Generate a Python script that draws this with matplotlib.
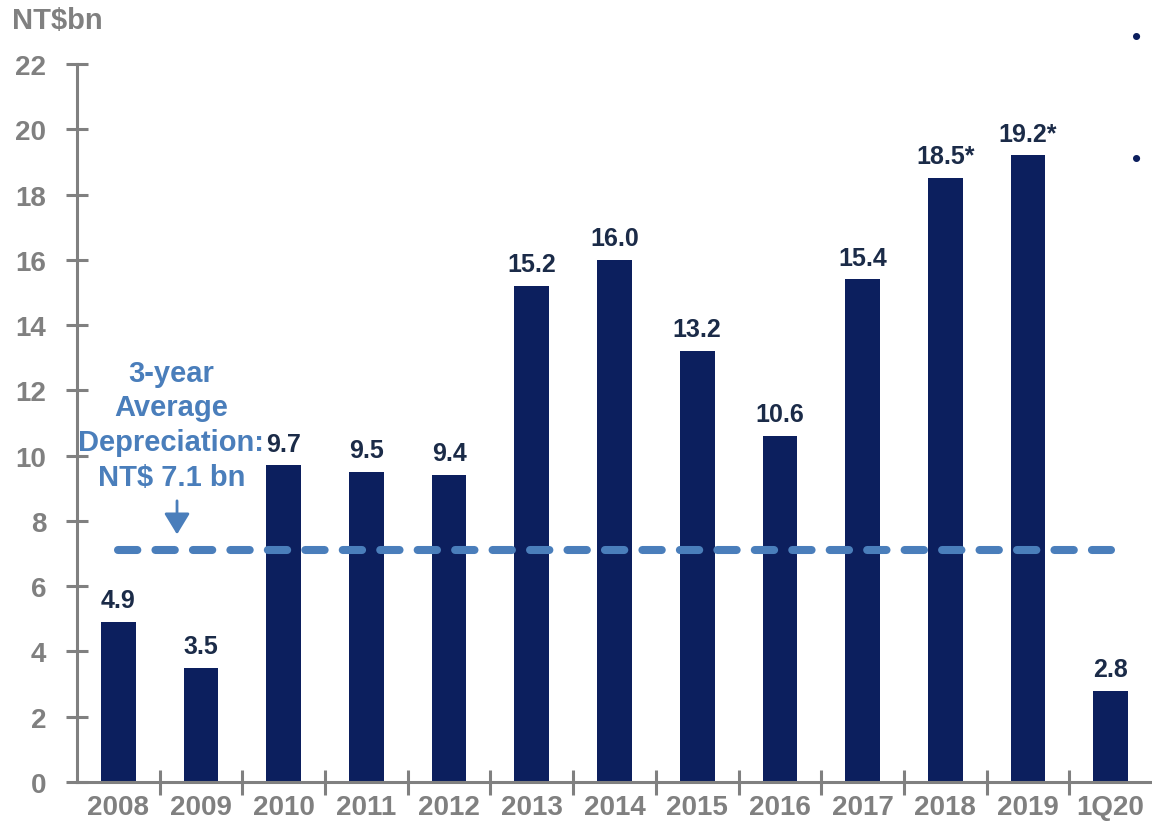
import matplotlib.pyplot as plt

plt.rcParams['font.family'] = ['Liberation Sans', 'DejaVu Sans']

periods = ['2008', '2009', '2010', '2011', '2012', '2013', '2014',
           '2015', '2016', '2017', '2018', '2019', '1Q20']
capex = [4.9, 3.5, 9.7, 9.5, 9.4, 15.2, 16.0, 13.2, 10.6, 15.4, 18.5, 19.2, 2.8]
value_labels = ['4.9', '3.5', '9.7', '9.5', '9.4', '15.2', '16.0',
                '13.2', '10.6', '15.4', '18.5*', '19.2*', '2.8']
avg_depreciation = 7.1
y_ticks = list(range(0, 23, 2))

NAVY = '#0c1f5e'
LABEL = '#1b2b48'
GREY = '#808080'
STEEL = '#4a7ebb'

fig = plt.figure(figsize=(11.52, 8.29), dpi=100)
ax = fig.add_axes([0.0668, 0.0555, 0.9332, 0.8661])

x = list(range(len(periods)))
ax.bar(x, capex, width=0.42, color=NAVY, zorder=2)

for xi, v, lab in zip(x, capex, value_labels):
    ax.annotate(lab, (xi, v), xytext=(0, 7), textcoords='offset points',
                ha='center', va='bottom', fontsize=18, fontweight='bold',
                color=LABEL)

# average depreciation line across all periods
ax.plot([x[0], x[-1]], [avg_depreciation, avg_depreciation], color=STEEL,
        lw=5.8, dashes=(2.4, 2.25), dash_capstyle='round', zorder=3)

ax.text(0.64, 10.95, '3-year\nAverage\nDepreciation:\nNT$ %.1f bn' % avg_depreciation,
        ha='center', va='center', fontsize=21, fontweight='bold',
        color=STEEL, linespacing=1.3)
ax.annotate('', xy=(0.71, 7.5), xytext=(0.71, 8.7),
            arrowprops=dict(arrowstyle='-|>,head_length=0.46,head_width=0.28',
                            color=STEEL, lw=2, mutation_scale=28))

ax.set_xlim(-0.5, len(periods) - 0.5)
ax.set_ylim(0, 22)
ax.set_yticks(y_ticks)
ax.set_xticks(x)
ax.set_xticklabels(periods)
ax.set_xticks([i + 0.5 for i in x[:-1]], minor=True)

for s in ['top', 'right']:
    ax.spines[s].set_visible(False)
for s in ['left', 'bottom']:
    ax.spines[s].set_color(GREY)
    ax.spines[s].set_linewidth(2.2)

ax.tick_params(axis='y', direction='inout', length=16, width=2.2, color=GREY,
               labelsize=20, labelcolor=GREY, pad=14)
ax.tick_params(axis='x', which='major', length=0, labelsize=20,
               labelcolor=GREY, pad=9)
ax.tick_params(axis='x', which='minor', direction='inout', length=18,
               width=2.2, color=GREY)
for t in ax.get_xticklabels() + ax.get_yticklabels():
    t.set_fontweight('bold')

fig.text(0.010, 0.975, 'NT$bn', ha='left', va='center', fontsize=21,
         fontweight='bold', color=GREY)

# bullet markers from the side panel
for yy in [0.954, 0.807]:
    fig.text(0.987, yy, '\u2022', ha='center', va='center', fontsize=19,
             color=NAVY)

fig.savefig('out.png', dpi=100)
